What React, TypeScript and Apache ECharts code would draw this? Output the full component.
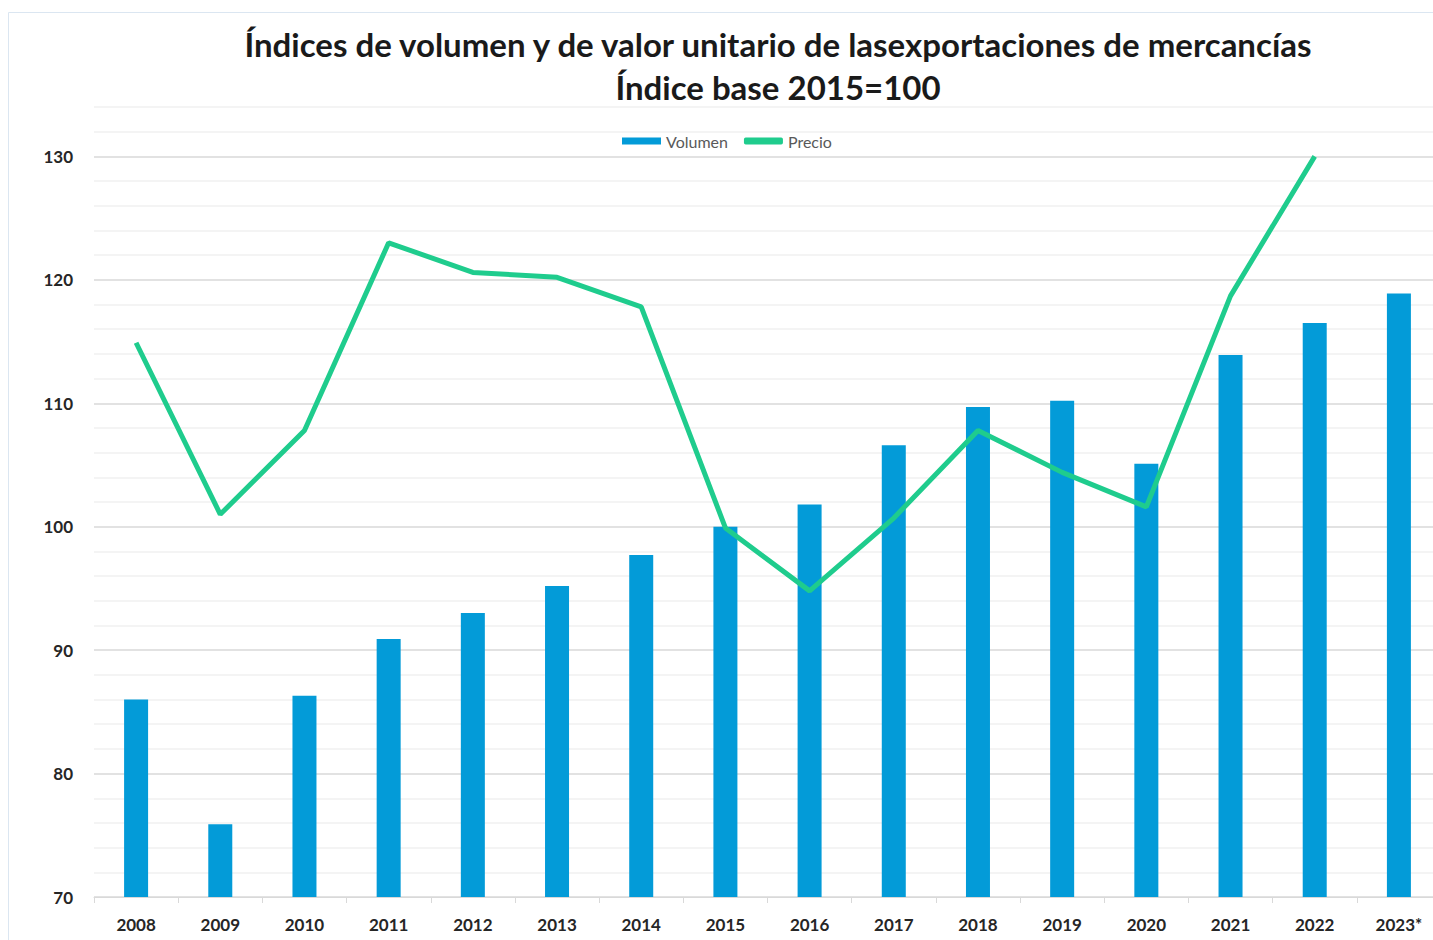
import React, { useEffect, useRef } from "react";
import * as echarts from "echarts";

const categories = ["2008", "2009", "2010", "2011", "2012", "2013", "2014", "2015", "2016", "2017", "2018", "2019", "2020", "2021", "2022", "2023*"];
const volumen = [86.0, 75.9, 86.3, 90.9, 93.0, 95.2, 97.7, 100.0, 101.8, 106.6, 109.7, 110.2, 105.1, 113.9, 116.5, 118.9];
const precio: (number | null)[] = [114.9, 101.0, 107.8, 123.0, 120.6, 120.2, 117.8, 99.9, 94.8, 100.7, 107.8, 104.4, 101.6, 118.7, 130.0, null];
const titleLines = ["Índices de volumen y de valor unitario de lasexportaciones de mercancías", "Índice base 2015=100"];
const seriesNames = ["Volumen", "Precio"];

const FONT = "Lato, 'Noto Sans', sans-serif";

export default function App() {
  const ref = useRef<HTMLDivElement>(null);
  useEffect(() => {
    if (!ref.current) return;
    const chart = echarts.init(ref.current, undefined, { renderer: "svg" });
    const major = "#d9d9d9";
    const minor = "#f0f0f0";
    chart.setOption({
      animation: false,
      backgroundColor: "#ffffff",
      textStyle: { fontFamily: FONT },
      graphic: [
        {
          type: "rect",
          z: -10,
          shape: { x: 8.5, y: 12.5, width: 1440, height: 940 },
          style: { fill: "none", stroke: "#dbe6f1", lineWidth: 1 },
        },
        {
          type: "text",
          x: 778,
          y: 44,
          style: {
            text: titleLines[0],
            fontFamily: FONT,
            fontWeight: "bold",
            fontSize: 33,
            fill: "#1a1a1a",
            textAlign: "center",
            textVerticalAlign: "middle",
          },
        },
        {
          type: "text",
          x: 778,
          y: 87,
          style: {
            text: titleLines[1],
            fontFamily: FONT,
            fontWeight: "bold",
            fontSize: 33,
            fill: "#1a1a1a",
            textAlign: "center",
            textVerticalAlign: "middle",
          },
        },
      ],
      legend: {
        left: 617,
        top: 128,
        itemGap: 16,
        itemWidth: 39,
        itemHeight: 7,
        textStyle: { color: "#595959", fontSize: 16, fontFamily: FONT },
        data: [
          { name: seriesNames[0], icon: "rect" },
          { name: seriesNames[1], icon: "roundRect" },
        ],
      },
      grid: { left: 94, top: 107, width: 1347, height: 790, containLabel: false },
      xAxis: {
        type: "category",
        data: categories,
        boundaryGap: true,
        axisLine: { lineStyle: { color: major, width: 1 } },
        axisTick: { show: true, length: 6, lineStyle: { color: major } },
        axisLabel: { color: "#262626", fontSize: 17, fontWeight: "bold", fontFamily: FONT, margin: 19 },
        splitLine: { show: false },
      },
      yAxis: {
        type: "value",
        min: 70,
        max: 134,
        interval: 2,
        axisLine: { show: false },
        axisTick: { show: false },
        axisLabel: {
          color: "#262626",
          fontSize: 17,
          fontWeight: "bold",
          fontFamily: FONT,
          margin: 21,
          formatter: (v: number) => (v % 10 === 0 ? String(v) : ""),
        },
        splitLine: {
          show: true,
          lineStyle: { color: [major, minor, minor, minor, minor], width: 1.5 },
        },
      },
      series: [
        {
          name: seriesNames[0],
          type: "bar",
          data: volumen,
          barWidth: 24,
          itemStyle: { color: "#039bd8" },
          z: 2,
        },
        {
          name: seriesNames[1],
          type: "line",
          data: precio,
          symbol: "none",
          lineStyle: { color: "#1fcc8d", width: 5 },
          itemStyle: { color: "#1fcc8d" },
          z: 3,
        },
      ],
    });
    return () => chart.dispose();
  }, []);
  return (
    <div
      ref={ref}
      style={{ position: "fixed", left: 0, top: 0, width: 1460, height: 940, background: "#fff" }}
    />
  );
}
